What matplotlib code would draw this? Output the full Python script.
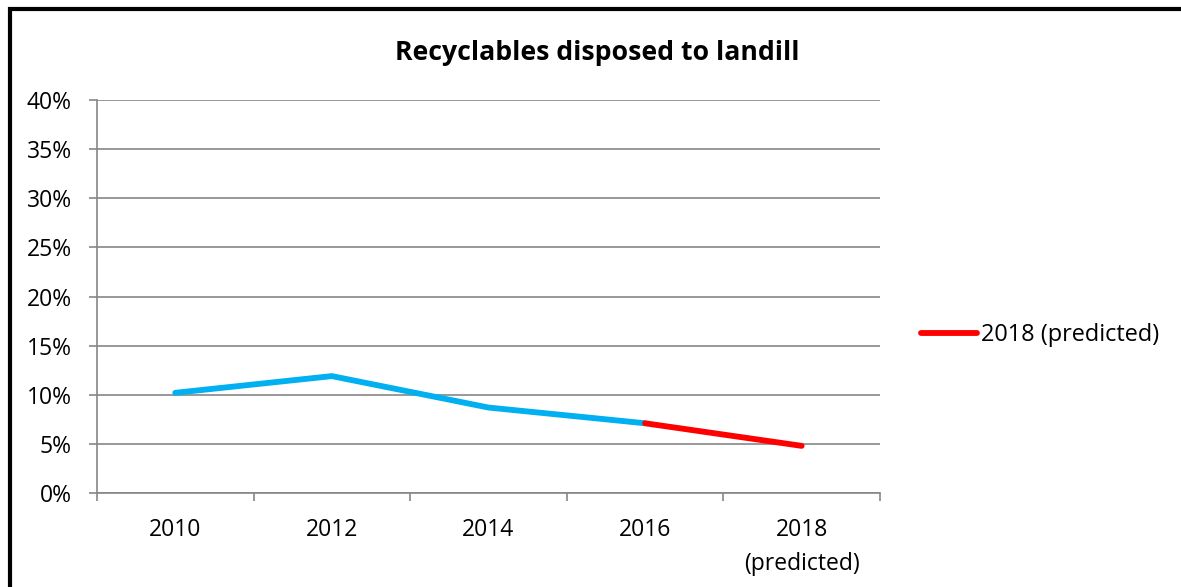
import numpy as np
import matplotlib.pyplot as plt
from matplotlib.ticker import PercentFormatter, FixedLocator
from matplotlib.patches import Rectangle

plt.rcParams['font.family'] = ['Open Sans', 'DejaVu Sans']

categories = ['2010', '2012', '2014', '2016', '2018\n(predicted)']
actual = [0.102, 0.119, 0.087, 0.071]          # 2010-2016
predicted = [0.071, 0.048]                     # 2016-2018
predicted_label = '2018 (predicted)'

blue = '#00B0F0'
red = '#FF0000'
grey = '#868686'

fig = plt.figure(figsize=(11.81, 5.87), dpi=100)
ax = fig.add_axes([0.0821, 0.1601, 0.7451 - 0.0821, 0.8296 - 0.1601])

x = np.arange(len(categories))
ax.plot(x[:len(actual)], actual, color=blue, lw=4.2, solid_capstyle='round', zorder=3)
ax.plot(x[len(actual) - 1:], predicted, color=red, lw=4.2, solid_capstyle='round',
        label=predicted_label, zorder=4)

ax.set_xlim(-0.5, len(categories) - 0.5)
ax.set_ylim(0, 0.40)
ax.set_yticks(np.arange(0, 0.401, 0.05))
ax.yaxis.set_major_formatter(PercentFormatter(1.0, decimals=0))
ax.grid(axis='y', color=grey, lw=1.2)
ax.set_axisbelow(True)

ax.set_xticks(x)
ax.set_xticklabels(categories, linespacing=1.55)
ax.xaxis.set_minor_locator(FixedLocator(np.arange(-0.5, len(categories), 1.0)))
ax.tick_params(axis='x', which='major', length=0, pad=18, labelsize=16.5)
ax.tick_params(axis='x', which='minor', length=6, width=1.2, color=grey, direction='out')
ax.tick_params(axis='y', length=6, width=1.2, color=grey, pad=12, labelsize=16.5)

for s in ['top', 'right']:
    ax.spines[s].set_visible(False)
for s in ['left', 'bottom']:
    ax.spines[s].set_color(grey)
    ax.spines[s].set_linewidth(1.2)

fig.text(0.5055, 0.91, 'Recyclables disposed to landill', ha='center', va='center',
         fontsize=19.2, fontweight='bold')

leg = fig.legend(loc='center left', bbox_to_anchor=(0.762, 0.429), frameon=False,
                 fontsize=16.9, handlelength=2.4, handletextpad=0.17)

# outer chart frame (only left/top edges fall inside the picture)
fig.patches.append(Rectangle((0.0085, -0.05), 1.2, 1.035, transform=fig.transFigure,
                             fill=False, edgecolor='black', lw=3))

fig.savefig('out.png', dpi=100)
